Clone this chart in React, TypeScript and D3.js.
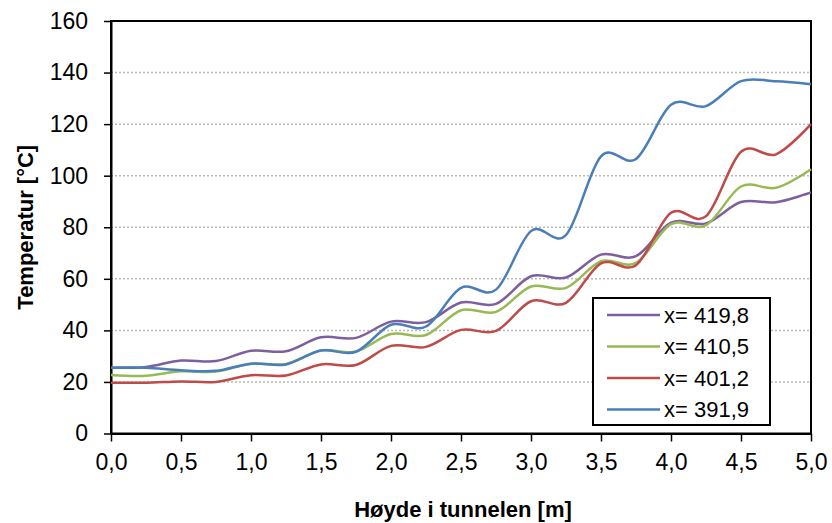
import React, { useEffect, useRef } from "react";
import * as d3 from "d3";

const heights = [0, 0.25, 0.5, 0.75, 1, 1.25, 1.5, 1.75, 2, 2.25, 2.5, 2.75, 3, 3.25, 3.5, 3.75, 4, 4.25, 4.5, 4.75, 5];

const seriesNames = ["x= 419,8", "x= 410,5", "x= 401,2", "x= 391,9"];
const seriesColors = ["#7d5fa0", "#98b954", "#be4b48", "#4a7ebb"];

const temp4198 = [25.5, 25.8, 28.3, 28.1, 32.1, 31.9, 37.3, 37.1, 43.4, 43.2, 50.8, 50.3, 61, 60.5, 69.4, 68.8, 81.8, 81.5, 89.8, 89.7, 93.5];
const temp4105 = [22.7, 22.4, 24.1, 24, 27.1, 27, 32.2, 31.8, 38.6, 38.2, 47.8, 47.2, 57, 56.5, 66.8, 66.2, 81.2, 80.8, 95.8, 95.3, 102.5];
const temp4012 = [19.7, 19.7, 20.2, 20, 22.6, 22.5, 26.8, 26.6, 34, 33.6, 40.2, 39.8, 51.3, 50.7, 66, 65.3, 85.6, 84.3, 109.3, 108.3, 120];
const temp3919 = [25.5, 25.5, 24.5, 24.3, 27.1, 26.8, 32.2, 31.7, 42.2, 41.5, 56.5, 55.8, 78.5, 77, 107.5, 106.5, 127.5, 127, 136.7, 136.6, 135.5];

const xTicks = [0, 0.5, 1, 1.5, 2, 2.5, 3, 3.5, 4, 4.5, 5];
const yTicks = [0, 20, 40, 60, 80, 100, 120, 140, 160];

const W = 832;
const H = 523;
const left = 111;
const right = 811;
const top = 21;
const bottom = 433.5;
const font = "'Liberation Sans', Arial, sans-serif";

const App = () => {
  const svgRef = useRef<SVGSVGElement | null>(null);

  useEffect(() => {
    if (!svgRef.current) return;
    const svg = d3.select(svgRef.current);
    svg.selectAll("*").remove();

    const x = d3.scaleLinear().domain([0, 5]).range([left, right]);
    const y = d3.scaleLinear().domain([0, 160]).range([bottom, top]);
    const fmt = (v: number) => v.toFixed(1).replace(".", ",");

    // gridlines
    svg
      .append("g")
      .selectAll("line")
      .data(yTicks.filter((t) => t > 0 && t < 160))
      .join("line")
      .attr("x1", left)
      .attr("x2", right)
      .attr("y1", (d) => y(d))
      .attr("y2", (d) => y(d))
      .attr("stroke", "#b9b9b9")
      .attr("stroke-width", 1.5)
      .attr("stroke-dasharray", "2,2");

    // plot frame
    svg
      .append("rect")
      .attr("x", left)
      .attr("y", top)
      .attr("width", right - left)
      .attr("height", bottom - top)
      .attr("fill", "none")
      .attr("stroke", "#000")
      .attr("stroke-width", 2);

    // y axis
    const yAxis = svg
      .append("g")
      .attr("transform", `translate(${left},0)`)
      .call(d3.axisLeft(y).tickValues(yTicks).tickSize(7).tickSizeOuter(0).tickPadding(16));
    yAxis.select(".domain").attr("stroke-width", 2);
    yAxis.selectAll(".tick line").attr("stroke-width", 1.5);
    yAxis.selectAll("text").attr("font-family", font).attr("font-size", 23).attr("fill", "#000");

    // x axis
    const xAxis = svg
      .append("g")
      .attr("transform", `translate(0,${bottom})`)
      .call(d3.axisBottom(x).tickValues(xTicks).tickFormat((d) => fmt(+d)).tickSize(8).tickSizeOuter(0).tickPadding(12));
    xAxis.select(".domain").attr("stroke-width", 2);
    xAxis.selectAll(".tick line").attr("stroke-width", 1.5);
    xAxis.selectAll("text").attr("font-family", font).attr("font-size", 23).attr("fill", "#000");

    // lines
    const seriesData = [temp4198, temp4105, temp4012, temp3919];
    const line = d3
      .line<number>()
      .x((_, i) => x(heights[i]))
      .y((d) => y(d))
      .curve(d3.curveCatmullRom.alpha(0));

    svg
      .append("g")
      .selectAll("path")
      .data(seriesData)
      .join("path")
      .attr("d", (d) => line(d))
      .attr("fill", "none")
      .attr("stroke", (_, i) => seriesColors[i])
      .attr("stroke-width", 2.5);

    // axis titles
    svg
      .append("text")
      .attr("x", 463)
      .attr("y", 517)
      .attr("text-anchor", "middle")
      .attr("font-family", font)
      .attr("font-weight", "bold")
      .attr("font-size", 22)
      .text("Høyde i tunnelen [m]");

    svg
      .append("text")
      .attr("transform", `translate(33,${(top + bottom) / 2}) rotate(-90)`)
      .attr("text-anchor", "middle")
      .attr("font-family", font)
      .attr("font-weight", "bold")
      .attr("font-size", 22)
      .text("Temperatur [°C]");

    // legend
    const legend = svg.append("g");
    legend
      .append("rect")
      .attr("x", 593)
      .attr("y", 298)
      .attr("width", 177)
      .attr("height", 127)
      .attr("fill", "#fff")
      .attr("stroke", "#000")
      .attr("stroke-width", 2);

    const items = legend
      .selectAll("g")
      .data(seriesNames)
      .join("g")
      .attr("transform", (_, i) => `translate(0,${315 + i * 31.5})`);
    items
      .append("line")
      .attr("x1", 607)
      .attr("x2", 660)
      .attr("stroke", (_, i) => seriesColors[i])
      .attr("stroke-width", 2.5);
    items
      .append("text")
      .attr("x", 664)
      .attr("y", 7.5)
      .attr("font-family", font)
      .attr("font-size", 22)
      .text((d) => d);
  }, []);

  return (
    <svg
      ref={svgRef}
      width={W}
      height={H}
      style={{ position: "absolute", left: 0, top: 0, background: "#fff" }}
    />
  );
};

export default App;
